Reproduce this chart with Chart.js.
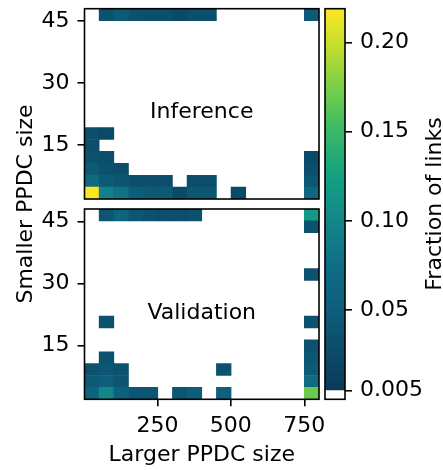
<!DOCTYPE html>
<html><head><meta charset="utf-8">
<script src="https://cdn.jsdelivr.net/npm/chart.js@4/dist/chart.umd.min.js"></script>
<style>
html,body{margin:0;padding:0;background:#fff;}
#wrap{position:relative;width:443px;height:470px;}
canvas{position:absolute;left:0;top:0;}
</style></head><body>
<div id="wrap"><canvas id="main" width="443" height="470"></canvas><canvas id="cbar" width="443" height="470"></canvas></div>
<script>
// ---- data ----
const xEdges = [2, 51.875, 101.75, 151.625, 201.5, 251.375, 301.25, 351.125, 401, 450.875, 500.75, 550.625, 600.5, 650.375, 700.25, 750.125, 800];
const yEdges = [2, 4.875, 7.75, 10.625, 13.5, 16.375, 19.25, 22.125, 25, 27.875, 30.75, 33.625, 36.5, 39.375, 42.25, 45.125, 48];
const xTickValues = [250, 500, 750];
const yTickValues = [15, 30, 45];
const cbarTickValues = [0.005, 0.05, 0.10, 0.15, 0.20];
const cbarTickLabels = ['0.005', '0.05', '0.10', '0.15', '0.20'];
const panelNames = ['Inference', 'Validation'];
const xTitle = 'Larger PPDC size';
const yTitle = 'Smaller PPDC size';
const cbarTitle = 'Fraction of links';
const fracThreshold = 0.005;
const fracMax = 0.219;

// rows from bottom (smallest size bin) to top; 16 columns each
const inferenceRows = [
  [0.219, 0.095, 0.080, 0.050, 0.045, 0.045, 0.025, 0.040, 0.040, 0, 0.025, 0, 0, 0, 0, 0.065],
  [0.070, 0.045, 0.040, 0.030, 0.030, 0.030, 0, 0.030, 0.030, 0, 0, 0, 0, 0, 0, 0.040],
  [0.045, 0.035, 0.030, 0, 0, 0, 0, 0, 0, 0, 0, 0, 0, 0, 0, 0.030],
  [0.035, 0.030, 0, 0, 0, 0, 0, 0, 0, 0, 0, 0, 0, 0, 0, 0.025],
  [0.030, 0, 0, 0, 0, 0, 0, 0, 0, 0, 0, 0, 0, 0, 0, 0],
  [0.030, 0.025, 0, 0, 0, 0, 0, 0, 0, 0, 0, 0, 0, 0, 0, 0],
  [0, 0, 0, 0, 0, 0, 0, 0, 0, 0, 0, 0, 0, 0, 0, 0],
  [0, 0, 0, 0, 0, 0, 0, 0, 0, 0, 0, 0, 0, 0, 0, 0],
  [0, 0, 0, 0, 0, 0, 0, 0, 0, 0, 0, 0, 0, 0, 0, 0],
  [0, 0, 0, 0, 0, 0, 0, 0, 0, 0, 0, 0, 0, 0, 0, 0],
  [0, 0, 0, 0, 0, 0, 0, 0, 0, 0, 0, 0, 0, 0, 0, 0],
  [0, 0, 0, 0, 0, 0, 0, 0, 0, 0, 0, 0, 0, 0, 0, 0],
  [0, 0, 0, 0, 0, 0, 0, 0, 0, 0, 0, 0, 0, 0, 0, 0],
  [0, 0, 0, 0, 0, 0, 0, 0, 0, 0, 0, 0, 0, 0, 0, 0],
  [0, 0, 0, 0, 0, 0, 0, 0, 0, 0, 0, 0, 0, 0, 0, 0],
  [0, 0.035, 0.045, 0.035, 0.030, 0.030, 0.025, 0.030, 0.030, 0, 0, 0, 0, 0, 0, 0.045]
];
const validationRows = [
  [0.060, 0.100, 0.055, 0.040, 0.040, 0, 0.040, 0.050, 0, 0.055, 0, 0, 0, 0, 0, 0.170],
  [0.045, 0.050, 0.040, 0, 0, 0, 0, 0, 0, 0, 0, 0, 0, 0, 0, 0.070],
  [0.035, 0.040, 0.035, 0, 0, 0, 0, 0, 0, 0.035, 0, 0, 0, 0, 0, 0.045],
  [0, 0.035, 0, 0, 0, 0, 0, 0, 0, 0, 0, 0, 0, 0, 0, 0.040],
  [0, 0, 0, 0, 0, 0, 0, 0, 0, 0, 0, 0, 0, 0, 0, 0.035],
  [0, 0, 0, 0, 0, 0, 0, 0, 0, 0, 0, 0, 0, 0, 0, 0],
  [0, 0.035, 0, 0, 0, 0, 0, 0, 0, 0, 0, 0, 0, 0, 0, 0.035],
  [0, 0, 0, 0, 0, 0, 0, 0, 0, 0, 0, 0, 0, 0, 0, 0],
  [0, 0, 0, 0, 0, 0, 0, 0, 0, 0, 0, 0, 0, 0, 0, 0],
  [0, 0, 0, 0, 0, 0, 0, 0, 0, 0, 0, 0, 0, 0, 0, 0],
  [0, 0, 0, 0, 0, 0, 0, 0, 0, 0, 0, 0, 0, 0, 0, 0.035],
  [0, 0, 0, 0, 0, 0, 0, 0, 0, 0, 0, 0, 0, 0, 0, 0],
  [0, 0, 0, 0, 0, 0, 0, 0, 0, 0, 0, 0, 0, 0, 0, 0],
  [0, 0, 0, 0, 0, 0, 0, 0, 0, 0, 0, 0, 0, 0, 0, 0],
  [0, 0, 0, 0, 0, 0, 0, 0, 0, 0, 0, 0, 0, 0, 0, 0.035],
  [0, 0.040, 0.060, 0.040, 0.035, 0.030, 0.030, 0.035, 0, 0, 0, 0, 0, 0, 0, 0.120]
];

// ---- styling ----
const FONT = "'DejaVu Sans'";
const FS = 22;
Chart.defaults.font.family = FONT;
Chart.defaults.font.size = FS;
Chart.defaults.color = '#000';

const cmapStops = [
  [0.0, '#083352'], [0.023, '#0a3a58'], [0.23, '#0d5e7b'], [0.35, '#0f6f86'],
  [0.46, '#138789'], [0.57, '#13a181'], [0.69, '#3bb966'], [0.80, '#7acf48'],
  [0.91, '#c6df2c'], [1.0, '#fde725']
];
function hex2rgb(h) { return [1, 3, 5].map(i => parseInt(h.substr(i, 2), 16)); }
function colorFor(v) {
  const t = Math.max(0, Math.min(1, v / fracMax));
  for (let i = 1; i < cmapStops.length; i++) {
    if (t <= cmapStops[i][0]) {
      const [t0, c0] = cmapStops[i - 1], [t1, c1] = cmapStops[i];
      const f = (t - t0) / (t1 - t0);
      const a = hex2rgb(c0), b = hex2rgb(c1);
      return 'rgb(' + a.map((x, k) => Math.round(x + (b[k] - x) * f)).join(',') + ')';
    }
  }
  return cmapStops[cmapStops.length - 1][1];
}

function buildDatasets(rows, axisId) {
  return rows.map((row, r) => ({
    xAxisID: 'x', yAxisID: axisId,
    grouped: false,
    barPercentage: 1, categoryPercentage: 1,
    borderWidth: 0,
    data: row.map((v, c) => ({
      x: (xEdges[c] + xEdges[c + 1]) / 2,
      y: v >= fracThreshold ? [yEdges[r], yEdges[r + 1]] : null
    })),
    backgroundColor: row.map(v => v >= fracThreshold ? colorFor(v) : 'rgba(0,0,0,0)')
  }));
}

function zeroPad(s) { s.paddingTop = 0; s.paddingBottom = 0; s.paddingLeft = 0; s.paddingRight = 0; }
const tickGrid = { display: true, offset: false, drawOnChartArea: false, drawTicks: true, tickLength: 7, lineWidth: 1.6, tickWidth: 1.6, tickColor: '#000', color: '#000' };
function panelAxis(weight) {
  return {
    type: 'linear', position: 'left', stack: 'panels', stackWeight: 190.3, weight: weight,
    min: yEdges[0], max: yEdges[yEdges.length - 1],
    afterBuildTicks: s => { s.ticks = yTickValues.map(v => ({ value: v })); },
    afterFit: s => { s.width = 84.5; zeroPad(s); },
    ticks: { padding: 8, color: '#000', font: { size: FS }, callback: v => String(v) },
    grid: tickGrid,
    border: { display: false }
  };
}

const mainPlugin = {
  id: 'mainDeco',
  afterDraw(chart) {
    const c = chart.ctx, x = chart.scales.x;
    const panels = [chart.scales.yTop, chart.scales.yBot];
    c.save();
    c.strokeStyle = '#000'; c.lineWidth = 1.6;
    panels.forEach((ys, i) => {
      c.strokeRect(x.left, ys.top, x.right - x.left, ys.bottom - ys.top);
      c.fillStyle = '#000';
      c.font = FS + 'px ' + FONT;
      c.textAlign = 'center'; c.textBaseline = 'alphabetic';
      c.fillText(panelNames[i], (x.left + x.right) / 2, ys.top + 109.5);
    });
    // shared y title
    c.translate(32, (chart.scales.yTop.top + chart.scales.yBot.bottom) / 2);
    c.rotate(-Math.PI / 2);
    c.textAlign = 'center'; c.textBaseline = 'alphabetic';
    c.fillText(yTitle, 0, 0);
    c.restore();
  }
};

new Chart(document.getElementById('main'), {
  type: 'bar',
  data: { datasets: buildDatasets(inferenceRows, 'yTop').concat(buildDatasets(validationRows, 'yBot')) },
  options: {
    responsive: false, animation: false, devicePixelRatio: 1,
    layout: { padding: { left: 0, right: 124, top: 8.7, bottom: 0 } },
    plugins: { legend: { display: false }, tooltip: { enabled: false } },
    scales: {
      x: {
        type: 'linear', position: 'bottom', offset: false, min: xEdges[0], max: xEdges[xEdges.length - 1],
        afterBuildTicks: s => { s.ticks = xTickValues.map(v => ({ value: v })); },
        afterFit: s => { s.height = 70.7; zeroPad(s); },
        ticks: { padding: 6.6, maxRotation: 0, autoSkip: false, color: '#000', callback: v => String(v) },
        grid: tickGrid,
        border: { display: false },
        title: { display: true, text: xTitle, color: '#000', font: { size: FS }, padding: { top: 0, bottom: 2 } }
      },
      yBot: panelAxis(1),
      yGap: {
        type: 'linear', position: 'left', stack: 'panels', stackWeight: 10, weight: 2,
        min: 0, max: 1,
        afterFit: s => { s.width = 84.5; zeroPad(s); },
        ticks: { display: false }, grid: { display: false }, border: { display: false }
      },
      yTop: panelAxis(3)
    }
  },
  plugins: [mainPlugin]
});

// ---- colour bar ----
function cbarGradient(context) {
  const chart = context.chart;
  const ys = chart.scales.y;
  if (!chart.chartArea || !ys) return '#000';
  const g = chart.ctx.createLinearGradient(0, ys.getPixelForValue(0), 0, ys.getPixelForValue(fracMax));
  cmapStops.forEach(([t, col]) => g.addColorStop(t, col));
  return g;
}
const cbarPlugin = {
  id: 'cbarDeco',
  afterDraw(chart) {
    const c = chart.ctx, a = chart.chartArea;
    c.save();
    c.strokeStyle = '#000'; c.lineWidth = 1.6;
    c.strokeRect(a.left, a.top, a.right - a.left, a.bottom - a.top);
    c.fillStyle = '#000';
    c.font = FS + 'px ' + FONT;
    c.translate(441, (a.top + a.bottom) / 2);
    c.rotate(-Math.PI / 2);
    c.textAlign = 'center'; c.textBaseline = 'alphabetic';
    c.fillText(cbarTitle, 0, 0);
    c.restore();
  }
};
new Chart(document.getElementById('cbar'), {
  type: 'bar',
  data: {
    labels: ['colour bar'],
    datasets: [
      { data: [[0, fracThreshold]], backgroundColor: '#ffffff', grouped: false, barPercentage: 1, categoryPercentage: 1, borderWidth: 0, inflateAmount: 0 },
      { data: [[fracThreshold, fracMax]], backgroundColor: cbarGradient, grouped: false, barPercentage: 1, categoryPercentage: 1, borderWidth: 0, inflateAmount: 0 }
    ]
  },
  options: {
    responsive: false, animation: false, devicePixelRatio: 1,
    layout: { padding: { left: 325, right: 0, top: 8.7, bottom: 70.7 } },
    plugins: { legend: { display: false }, tooltip: { enabled: false } },
    scales: {
      x: { type: 'category', display: false, afterFit: s => { zeroPad(s); } },
      y: {
        type: 'linear', position: 'right', min: 0, max: fracMax,
        afterBuildTicks: s => { s.ticks = cbarTickValues.map(v => ({ value: v })); },
        afterFit: s => { s.width = 98; zeroPad(s); },
        ticks: { padding: 8, color: '#000', callback: (v, i) => cbarTickLabels[i] },
        grid: tickGrid,
        border: { display: false }
      }
    }
  },
  plugins: [cbarPlugin]
});
</script>
</body></html>
